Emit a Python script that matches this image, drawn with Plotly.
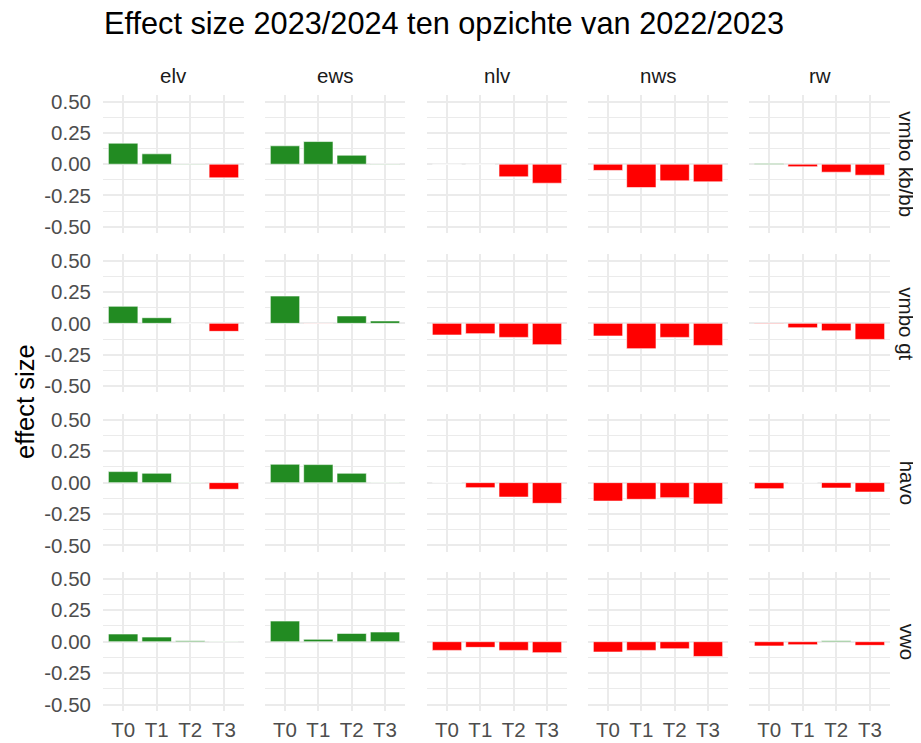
import plotly.graph_objects as go

# Subjects (columns), school levels (rows) and time points (x axis).
subjects = ['elv', 'ews', 'nlv', 'nws', 'rw']
levels = ['vmbo kb/bb', 'vmbo gt', 'havo', 'vwo']
timepoints = ['T0', 'T1', 'T2', 'T3']

# Effect sizes per school level, one list per subject (T0..T3).
vmbo_kbbb = {
    'elv': [0.168, 0.083, 0.001, -0.109],
    'ews': [0.147, 0.181, 0.072, 0.001],
    'nlv': [-0.001, -0.001, -0.101, -0.152],
    'nws': [-0.050, -0.187, -0.133, -0.141],
    'rw': [0.006, -0.020, -0.064, -0.088],
}
vmbo_gt = {
    'elv': [0.136, 0.045, 0.001, -0.064],
    'ews': [0.218, -0.001, 0.059, 0.019],
    'nlv': [-0.093, -0.082, -0.112, -0.170],
    'nws': [-0.101, -0.202, -0.112, -0.176],
    'rw': [-0.004, -0.035, -0.059, -0.128],
}
havo = {
    'elv': [0.088, 0.075, 0.001, -0.053],
    'ews': [0.147, 0.144, 0.075, 0.001],
    'nlv': [-0.001, -0.040, -0.115, -0.165],
    'nws': [-0.147, -0.133, -0.120, -0.170],
    'rw': [-0.048, -0.001, -0.043, -0.075],
}
vwo = {
    'elv': [0.061, 0.037, 0.008, 0.001],
    'ews': [0.164, 0.019, 0.066, 0.077],
    'nlv': [-0.069, -0.045, -0.069, -0.087],
    'nws': [-0.082, -0.069, -0.056, -0.117],
    'rw': [-0.034, -0.024, 0.008, -0.029],
}
level_data = [vmbo_kbbb, vmbo_gt, havo, vwo]

y_ticks = [-0.5, -0.25, 0.0, 0.25, 0.5]
y_tick_text = ['-0.50', '-0.25', '0.00', '0.25', '0.50']

# The page body has an 8px margin, so the figure is drawn 8px smaller
# and every target pixel position is shifted by that offset.
OFF = 8
W, H = 921 - OFF, 743 - OFF
FONT = 'Liberation Sans, Arial, sans-serif'
GRID = '#EBEBEB'


def px_x(x):
    return (x - OFF) / W


def px_y(y):
    return 1 - (y - OFF) / H


# Panel positions in window pixels (left, right) and (top, bottom).
col_px = [(103, 244), (265, 405), (427, 567), (588, 728), (749, 890)]
row_px = [(95.4, 233), (254.4, 392.3), (413.7, 551.6), (572.4, 711)]

fig = go.Figure()
layout = {}
annotations = []

for r, level in enumerate(levels):
    for c, subj in enumerate(subjects):
        n = r * len(subjects) + c + 1
        xa = 'xaxis' if n == 1 else f'xaxis{n}'
        ya = 'yaxis' if n == 1 else f'yaxis{n}'
        vals = level_data[r][subj]
        colors = ['#228B22' if v > 0 else '#FF0000' for v in vals]
        fig.add_trace(go.Bar(
            x=timepoints, y=vals,
            marker=dict(color=colors, line=dict(color='white', width=0.6)),
            width=0.88,
            xaxis=f'x{n}' if n > 1 else 'x',
            yaxis=f'y{n}' if n > 1 else 'y',
            showlegend=False,
        ))
        x0, x1 = col_px[c]
        t, b = row_px[r]
        layout[xa] = dict(
            domain=[px_x(x0), px_x(x1)], anchor=f'y{n}' if n > 1 else 'y',
            type='category', categoryorder='array', categoryarray=timepoints,
            range=[-0.6, 3.6], automargin=False,
            showgrid=True, gridcolor=GRID, gridwidth=1.8,
            showline=False, zeroline=False, ticks='',
            showticklabels=(r == len(levels) - 1),
            tickfont=dict(family=FONT, size=20.5, color='#4D4D4D'),
            ticklabelstandoff=4,
        )
        layout[ya] = dict(
            domain=[px_y(b), px_y(t)], anchor=f'x{n}' if n > 1 else 'x',
            range=[-0.55, 0.55], automargin=False,
            tickvals=y_ticks, ticktext=y_tick_text,
            showgrid=True, gridcolor=GRID, gridwidth=1.8,
            minor=dict(tickvals=[-0.375, -0.125, 0.125, 0.375],
                       showgrid=True, gridcolor=GRID, gridwidth=1.1),
            showline=False, zeroline=False, ticks='',
            showticklabels=(c == 0),
            tickfont=dict(family=FONT, size=20.5, color='#4D4D4D'),
            ticklabelstandoff=11,
        )

# Column strip labels.
for c, subj in enumerate(subjects):
    x0, x1 = col_px[c]
    annotations.append(dict(
        text=subj, x=px_x((x0 + x1) / 2), y=px_y(75),
        xref='paper', yref='paper', showarrow=False,
        xanchor='center', yanchor='middle',
        font=dict(family=FONT, size=20.5, color='#1A1A1A'),
    ))

# Row strip labels.
for r, level in enumerate(levels):
    t, b = row_px[r]
    annotations.append(dict(
        text=level, x=px_x(907), y=px_y((t + b) / 2),
        xref='paper', yref='paper', showarrow=False, textangle=90,
        xanchor='center', yanchor='middle',
        font=dict(family=FONT, size=20.5, color='#1A1A1A'),
    ))

# Axis title.
annotations.append(dict(
    text='effect size', x=px_x(25), y=px_y(402),
    xref='paper', yref='paper', showarrow=False, textangle=-90,
    xanchor='center', yanchor='middle',
    font=dict(family=FONT, size=25.6, color='black'),
))

fig.update_layout(
    **layout,
    title=dict(text='Effect size 2023/2024 ten opzichte van 2022/2023',
               x=px_x(104), xanchor='left', y=px_y(23), yanchor='middle',
               font=dict(family=FONT, size=30.7, color='black')),
    annotations=annotations,
    width=W, height=H,
    margin=dict(l=0, r=0, t=0, b=0),
    plot_bgcolor='white', paper_bgcolor='white',
    bargap=0.1,
)

fig.write_html('out.html')
